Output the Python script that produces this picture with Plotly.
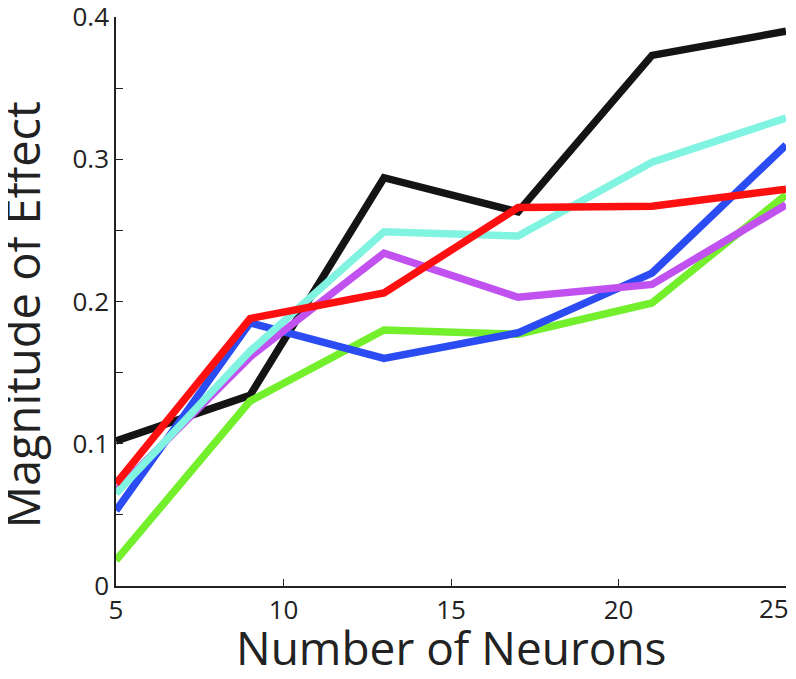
import plotly.graph_objects as go

neurons = [5, 9, 13, 17, 21, 25]

black = [0.102, 0.134, 0.287, 0.263, 0.373, 0.390]
green = [0.018, 0.130, 0.180, 0.177, 0.199, 0.275]
blue = [0.053, 0.185, 0.160, 0.178, 0.220, 0.310]
purple = [0.067, 0.161, 0.234, 0.203, 0.212, 0.268]
cyan = [0.065, 0.165, 0.249, 0.246, 0.298, 0.329]
red = [0.072, 0.188, 0.206, 0.266, 0.267, 0.279]

# drawing order: first is at the bottom
series = [
    (black, "#141414"),
    (green, "#73ef2b"),
    (blue, "#2b4cf2"),
    (purple, "#c152f0"),
    (cyan, "#80f4e0"),
    (red, "#ff1010"),
]

x_ticks = [5, 10, 15, 20, 25]
x_labels = ["5", "10", "15", "20", "25"]
y_ticks = [0, 0.05, 0.1, 0.15, 0.2, 0.25, 0.3, 0.35, 0.4]
y_labels = ["0", "", "0.1", "", "0.2", "", "0.3", "", "0.4"]

font = "Open Sans, Lato, sans-serif"
tick_font = dict(size=26, color="#222", family=font)

fig = go.Figure()
for vals, col in series:
    fig.add_trace(go.Scatter(x=neurons, y=vals, mode="lines",
                             line=dict(color=col, width=7.5),
                             showlegend=False, hoverinfo="skip"))

# last x label would run past the window edge, so it is drawn right-aligned below
fig.update_xaxes(range=[5, 25], tickvals=x_ticks, ticktext=x_labels[:-1] + [""],
                 ticks="inside", ticklen=7,
                 tickcolor="#222", showline=True, linecolor="#222", linewidth=1.5,
                 showgrid=False, zeroline=False, automargin=False,
                 ticklabeloverflow="allow", tickfont=tick_font)
fig.update_yaxes(range=[0, 0.4], tickvals=y_ticks, ticktext=y_labels,
                 ticks="inside", ticklen=7, tickcolor="#222",
                 showline=True, linecolor="#222", linewidth=1.5,
                 showgrid=False, zeroline=False, automargin=False,
                 ticklabeloverflow="allow", tickfont=tick_font)

fig.add_annotation(text=x_labels[-1], x=x_ticks[-1], xref="x",
                   y=0, yref="paper", yanchor="top", xanchor="right",
                   xshift=5, yshift=-2, showarrow=False, font=tick_font)

fig.add_annotation(text="Number of Neurons",
                   xref="paper", yref="paper", x=0.5, y=-0.108,
                   xanchor="center", yanchor="middle", showarrow=False,
                   font=dict(size=46, color="#222", family=font))
fig.add_annotation(text="Magnitude of Effect", textangle=-90,
                   xref="paper", yref="paper", x=-0.14, y=0.476,
                   xanchor="center", yanchor="middle", showarrow=False,
                   font=dict(size=47, color="#222", family=font))

# page body has an 8px margin, so the figure is shrunk to fit the window
fig.update_layout(width=788, height=671, plot_bgcolor="white", paper_bgcolor="white",
                  margin=dict(l=108, r=10, t=9, b=93))

fig.write_html("out.html")
